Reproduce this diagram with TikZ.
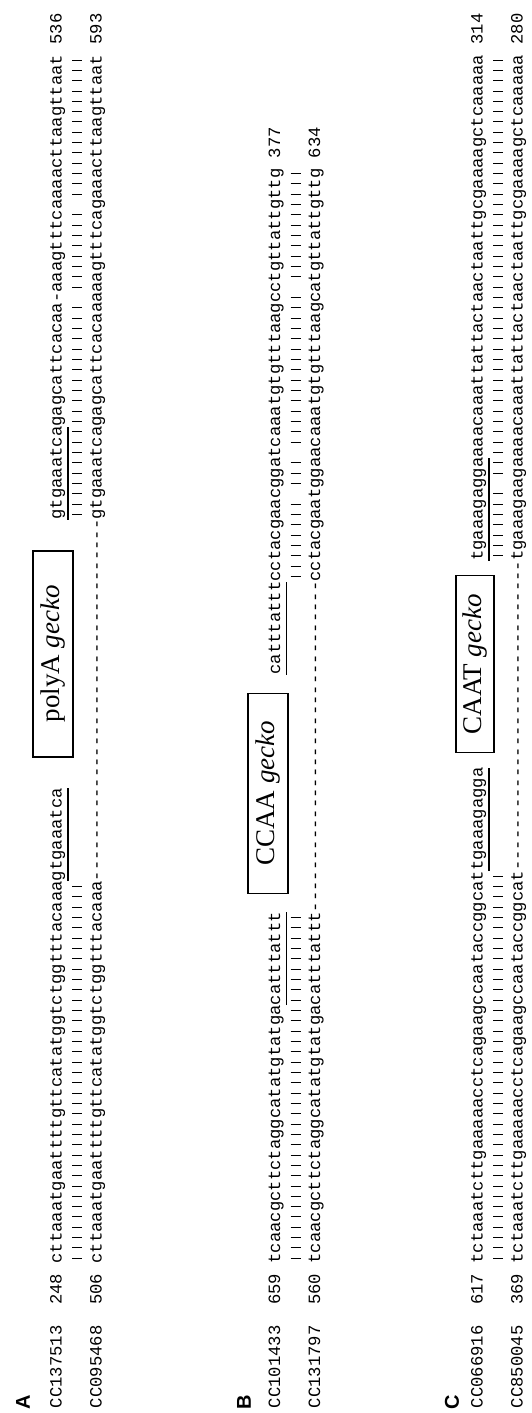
\documentclass[tikz,border=0pt]{standalone}
\usepackage{fontspec}
\newfontfamily\seqfont{Liberation Mono}
\newfontfamily\boxfont{Liberation Serif}
\newfontfamily\labfont{Liberation Sans}
\newcount\dashcnt
\newcommand\dashrun[1]{\dashcnt=#1\relax\loop\ifnum\dashcnt>0 -\kern0pt\advance\dashcnt by -1\relax\repeat}
\newcommand\barrun[4]{\foreach \bi in {#3,...,#4}{\draw[barln] ({#1+(\bi+0.5)*\P},{-(#2)+5}) -- ({#1+(\bi+0.5)*\P},{-(#2)-5});}}
\newcommand\ulseg[4]{\draw[uline] ({#1+(#3)*\P},{-(#2)}) -- ({#1+(#4+1)*\P},{-(#2)});}
\begin{document}
\begin{tikzpicture}[x=1pt,y=1pt,
  seqtxt/.style={font=\seqfont\fontsize{17.217}{20}\selectfont, anchor=base west, inner sep=0pt, outer sep=0pt},
  lbl/.style={font=\labfont\bfseries\fontsize{20}{24}\selectfont, anchor=west, inner sep=0pt},
  gbox/.style={draw, line width=1.6pt, inner sep=0pt, minimum height=40pt, font=\boxfont\fontsize{27}{30}\selectfont},
  barln/.style={line width=0.8pt},
  uline/.style={line width=1.6pt}]
\useasboundingbox (0,0) rectangle (531,1413);
\fill[white] (0,0) rectangle (531,1413);
\begin{scope}[rotate=90, transform shape]
\def\P{10.33}
\def\S{149.62}
% ---------------- A ----------------
\node[lbl] (labA) at (3,-23) {A};
\node[seqtxt] (nameA1) at (5,-61.5) {CC137513};
\node[seqtxt] (numA1) at (108.3,-61.5) {248};
\node[seqtxt] (seqA1L) at (\S,-61.5) {cttaaatgaattttgttcatatggtctggtttacaaagtgaaatca};
\node[gbox, minimum width=206pt] (boxA) at (759.1,-53) {polyA \textit{gecko}};
\node[seqtxt] (seqA1R) at (893.38,-61.5) {gtgaaatcagagcattcacaa-aaagtttcaaaacttaagttaat};
\node[seqtxt] (endA1) at (1368.56,-61.5) {536};
\ulseg{\S}{68}{37}{45}
\ulseg{893.38}{68}{0}{8}
\barrun{\S}{77}{0}{36}
\barrun{893.38}{77}{0}{20}
\barrun{893.38}{77}{22}{29}
\barrun{893.38}{77}{31}{44}
\node[seqtxt] (nameA2) at (5,-101.5) {CC095468};
\node[seqtxt] (numA2) at (108.3,-101.5) {506};
\node[seqtxt] (seqA2) at (\S,-101.5) {cttaaatgaattttgttcatatggtctggtttacaaa\dashrun{35}gtgaaatcagagcattcacaaaaagtttcagaaacttaagttaat};
\node[seqtxt] (endA2) at (1368.56,-101.5) {593};
% ---------------- B ----------------
\node[lbl] (labB) at (3,-244) {B};
\node[seqtxt] (nameB1) at (5,-280) {CC101433};
\node[seqtxt] (numB1) at (108.3,-280) {659};
\node[seqtxt] (seqB1L) at (\S,-280) {tcaacgcttctaggcatatgtatgacatttattt};
\node[gbox, minimum width=200pt] (boxB) at (619.6,-268) {CCAA \textit{gecko}};
\node[seqtxt] (seqB1R) at (738.43,-280) {catttatttcctacgaacggatcaaatgtgtttaagcctgttattgttg};
\node[seqtxt] (endB1) at (1254.93,-280) {377};
\ulseg{\S}{286.5}{25}{33}
\ulseg{738.43}{286.5}{0}{8}
\barrun{\S}{295.5}{0}{33}
\barrun{738.43}{295.5}{9}{16}
\barrun{738.43}{295.5}{18}{20}
\barrun{738.43}{295.5}{22}{36}
\barrun{738.43}{295.5}{38}{48}
\node[seqtxt] (nameB2) at (5,-320) {CC131797};
\node[seqtxt] (numB2) at (108.3,-320) {560};
\node[seqtxt] (seqB2) at (\S,-320) {tcaacgcttctaggcatatgtatgacatttattt\dashrun{32}cctacgaatggaacaaatgtgtttaagcatgttattgttg};
\node[seqtxt] (endB2) at (1254.93,-320) {634};
% ---------------- C ----------------
\node[lbl] (labC) at (3,-452) {C};
\node[seqtxt] (nameC1) at (5,-482.5) {CC066916};
\node[seqtxt] (numC1) at (108.3,-482.5) {617};
\node[seqtxt] (seqC1L) at (\S,-482.5) {tctaaatcttgaaaaacctcagaagccaataccggcattgaaagagga};
\node[gbox, minimum width=177pt, minimum height=38pt] (boxC) at (748.8,-475) {CAAT \textit{gecko}};
\node[seqtxt] (seqC1R) at (852.06,-482.5) {tgaaagaggaaaacaaattattactaactaattgcgaaaagctcaaaaa};
\node[seqtxt] (endC1) at (1368.56,-482.5) {314};
\ulseg{\S}{489}{38}{47}
\ulseg{852.06}{489}{0}{9}
\barrun{\S}{498}{0}{37}
\barrun{852.06}{498}{0}{6}
\barrun{852.06}{498}{8}{48}
\node[seqtxt] (nameC2) at (5,-522.5) {CC850045};
\node[seqtxt] (numC2) at (108.3,-522.5) {369};
\node[seqtxt] (seqC2) at (\S,-522.5) {tctaaatcttgaaaaacctcagaagccaataccggcat\dashrun{30}tgaaagaagaaaacaaattattactaactaattgcgaaaagctcaaaaa};
\node[seqtxt] (endC2) at (1368.56,-522.5) {280};
\end{scope}
\end{tikzpicture}
\end{document}
